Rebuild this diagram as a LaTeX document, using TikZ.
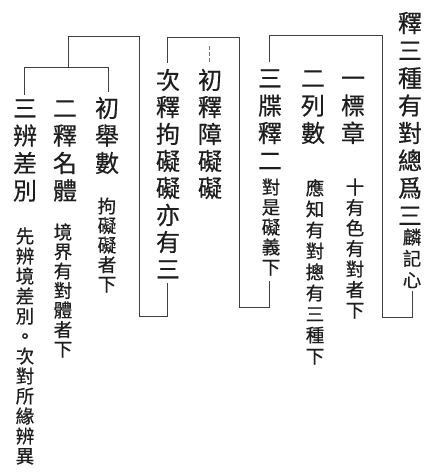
\documentclass[tikz,border=0pt]{standalone}
\usepackage{fontspec}
\newfontfamily\cjk{Noto Sans CJK TC}[FakeBold=0.5]
\definecolor{ink}{HTML}{1E1E1E}
\tikzset{
  big/.style={font=\cjk\fontsize{24}{24}\selectfont, inner sep=0pt, text height=21.1pt, text depth=2.9pt, text=ink},
  small/.style={font=\cjk\fontsize{18.5}{18.5}\selectfont, inner sep=0pt, text height=16.3pt, text depth=2.2pt, text=ink},
  rule/.style={draw=ink!85, line width=0.8pt},
  faint/.style={draw=ink!60, line width=0.6pt, dash pattern=on 4pt off 2pt}
}
% #1 name, #2 style, #3 x, #4 y of first centre, #5 pitch, #6 characters
\newcommand\vcol[6]{%
  \foreach \ch [count=\i from 0] in {#6} {\node[#2] (#1-\i) at (#3, {#4+\i*#5}) {\ch};}%
}
\begin{document}
\begin{tikzpicture}[x=1pt, y=-1pt]
\fill[white] (0,0) rectangle (443,472);
\useasboundingbox (0,0) rectangle (443,472);

% root
\vcol{root}{big}{410}{23}{27.5}{釋,三,種,有,對,總,爲,三}
\vcol{rootn}{small}{412}{237}{21.5}{麟,記,心}
% level 1
\vcol{a}{big}{353}{78}{27.5}{一,標,章}
\vcol{an}{small}{355}{187}{20.5}{十,有,色,有,對,者,下}
\vcol{b}{big}{313}{78}{27.5}{二,列,數}
\vcol{bn}{small}{315}{188}{21}{應,知,有,對,摠,有,三,種,下}
\vcol{c}{big}{270}{78}{27.5}{三,牒,釋,二}
\vcol{cn}{small}{271}{187}{20}{對,是,礙,義,下}
% level 2
\vcol{d}{big}{210}{80}{27}{初,釋,障,礙,礙}
\vcol{e}{big}{168}{80}{27}{次,釋,拘,礙,礙,亦,有,三}
% level 3
\vcol{f}{big}{107}{108}{27.5}{初,舉,數}
\vcol{fn}{small}{107}{206}{19.5}{拘,礙,礙,者,下}
\vcol{g}{big}{65}{108}{27.5}{二,釋,名,體}
\vcol{gn}{small}{63}{232}{19.5}{境,界,有,對,體,者,下}
\vcol{h}{big}{25}{108}{27.5}{三,辨,差,別}
\vcol{hn}{small}{25}{236}{20}{先,辨,境,差,別,。,次,對,所,緣,辨,異}

% bracket corners
\coordinate (r1) at (412,291);
\coordinate (r2) at (412,317);
\coordinate (r3) at (382,317);
\coordinate (r4) at (382,35);
\coordinate (r5) at (269,35);
\coordinate (r6) at (269,62);
\draw[rule] (r1) -- (r2) -- (r3) -- (r4) -- (r5) -- (r6);

\coordinate (c1) at (269,281);
\coordinate (c2) at (269,307);
\coordinate (c3) at (239,307);
\coordinate (c4) at (239,37);
\coordinate (c5) at (167,37);
\coordinate (c6) at (167,63);
\draw[rule] (c1) -- (c2) -- (c3) -- (c4) -- (c5) -- (c6);
\coordinate (d1) at (209,46);
\coordinate (d2) at (209,64);
\draw[faint] (d1) -- (d2);

\coordinate (e1) at (167,283);
\coordinate (e2) at (167,316);
\coordinate (e3) at (139,316);
\coordinate (e4) at (139,36);
\coordinate (e5) at (68,36);
\coordinate (e6) at (68,67);
\draw[rule] (e1) -- (e2) -- (e3) -- (e4) -- (e5) -- (e6);

\coordinate (h1) at (24,95);
\coordinate (h2) at (24,67);
\coordinate (f2) at (108,67);
\coordinate (f1) at (108,92);
\draw[rule] (h1) -- (h2) -- (f2) -- (f1);
\end{tikzpicture}
\end{document}
